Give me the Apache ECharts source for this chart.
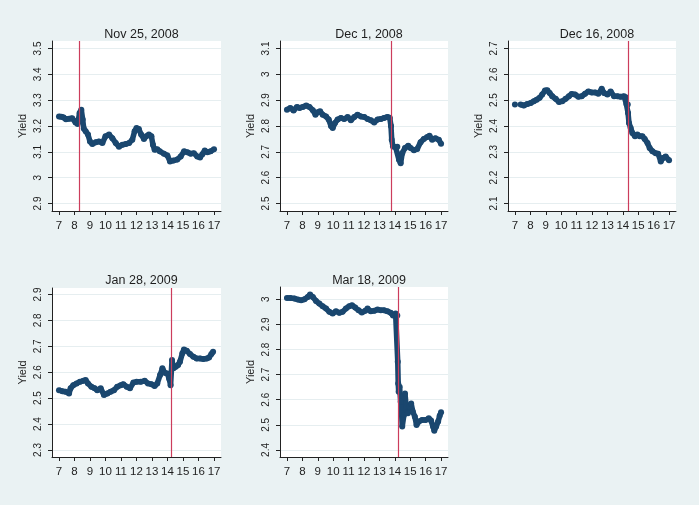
<!DOCTYPE html>
<html>
<head>
<meta charset="utf-8">
<script src="https://cdn.jsdelivr.net/npm/echarts@6/dist/echarts.min.js"></script>
<style>
  html, body { margin: 0; padding: 0; background: #eaf2f3; }
  #chart { width: 699px; height: 505px; }
</style>
</head>
<body>
<div id="chart"></div>
<script>
// 面板标题与事件时间（红线）
const titles = ["Nov 25, 2008", "Dec 1, 2008", "Dec 16, 2008", "Jan 28, 2009", "Mar 18, 2009"];
const eventHours = [8.29, 13.75, 14.36, 14.27, 14.2];
const hourTicks = [7, 8, 9, 10, 11, 12, 13, 14, 15, 16, 17];

// 各面板 y 轴刻度
const yTicks1 = [2.9, 3, 3.1, 3.2, 3.3, 3.4, 3.5];
const yTicks2 = [2.5, 2.6, 2.7, 2.8, 2.9, 3, 3.1];
const yTicks3 = [2.1, 2.2, 2.3, 2.4, 2.5, 2.6, 2.7];
const yTicks4 = [2.3, 2.4, 2.5, 2.6, 2.7, 2.8, 2.9];
const yTicks5 = [2.4, 2.5, 2.6, 2.7, 2.8, 2.9, 3];

// Nov 25, 2008
const hours1 = [7.0, 7.15, 7.3, 7.45, 7.65, 7.85, 8.07, 8.2, 8.33, 8.44, 8.53, 8.6, 8.72, 8.87, 9.0, 9.15, 9.37, 9.58, 9.8, 10.0,
  10.23, 10.44, 10.66, 10.87, 11.09, 11.3, 11.52, 11.73, 11.88, 12.0, 12.15, 12.3, 12.48, 12.63, 12.8, 12.96, 13.06, 13.17, 13.34, 13.5,
  13.77, 13.99, 14.16, 14.38, 14.63, 14.85, 15.07, 15.28, 15.5, 15.7, 15.92, 16.1, 16.25, 16.4, 16.57, 16.78, 17.0];
const yield1 = [3.237, 3.236, 3.233, 3.226, 3.228, 3.23, 3.214, 3.208, 3.25, 3.263, 3.225, 3.19, 3.18, 3.167, 3.14, 3.13, 3.137, 3.14, 3.134, 3.16,
  3.167, 3.153, 3.134, 3.12, 3.127, 3.13, 3.134, 3.147, 3.18, 3.192, 3.188, 3.167, 3.15, 3.16, 3.167, 3.16, 3.127, 3.108, 3.11, 3.102,
  3.093, 3.086, 3.063, 3.066, 3.07, 3.082, 3.102, 3.098, 3.093, 3.095, 3.082, 3.078, 3.091, 3.105, 3.098, 3.102, 3.11];

// Dec 1, 2008
const hours2 = [7.0, 7.22, 7.43, 7.65, 7.82, 8.03, 8.25, 8.46, 8.68, 8.85, 9.0, 9.15, 9.32, 9.54, 9.71, 9.86, 9.97, 10.12, 10.29, 10.5,
  10.72, 10.94, 11.15, 11.37, 11.58, 11.8, 12.02, 12.23, 12.45, 12.66, 12.88, 13.09, 13.3, 13.52, 13.67, 13.75, 13.8, 13.88, 14.05, 14.16,
  14.27, 14.38, 14.48, 14.66, 14.87, 15.02, 15.24, 15.45, 15.67, 15.88, 16.1, 16.25, 16.42, 16.63, 16.85, 17.0];
const yield2 = [2.863, 2.87, 2.86, 2.874, 2.87, 2.874, 2.879, 2.874, 2.861, 2.844, 2.853, 2.857, 2.844, 2.837, 2.825, 2.80, 2.792, 2.812, 2.825, 2.831,
  2.827, 2.835, 2.822, 2.835, 2.844, 2.837, 2.835, 2.827, 2.822, 2.814, 2.825, 2.827, 2.831, 2.835, 2.832, 2.80, 2.747, 2.721, 2.718, 2.72,
  2.669, 2.656, 2.695, 2.715, 2.724, 2.715, 2.706, 2.711, 2.737, 2.75, 2.757, 2.762, 2.747, 2.753, 2.747, 2.731];

// Dec 16, 2008（7 点后有一段空缺）
const hours3 = [7.0, 7.2, 7.37, 7.58, 7.8, 8.02, 8.23, 8.41, 8.6, 8.77, 8.95, 9.1, 9.25, 9.42, 9.64, 9.86, 10.07, 10.29, 10.5, 10.68,
  10.9, 11.11, 11.33, 11.55, 11.76, 11.98, 12.2, 12.41, 12.63, 12.78, 13.0, 13.21, 13.43, 13.65, 13.86, 14.08, 14.19, 14.23, 14.32, 14.34,
  14.4, 14.51, 14.62, 14.79, 14.94, 15.1, 15.27, 15.42, 15.6, 15.74, 15.92, 16.13, 16.29, 16.46, 16.6, 16.78, 17.0];
const yield3 = [2.483, null, 2.483, 2.479, 2.485, 2.489, 2.496, 2.502, 2.509, 2.522, 2.537, 2.538, 2.528, 2.515, 2.505, 2.493, 2.496, 2.505, 2.515, 2.524,
  2.522, 2.513, 2.515, 2.525, 2.534, 2.53, 2.53, 2.525, 2.544, 2.528, 2.522, 2.534, 2.515, 2.515, 2.513, 2.515, 2.511, 2.485, 2.483, 2.45,
  2.412, 2.392, 2.373, 2.36, 2.367, 2.36, 2.36, 2.35, 2.334, 2.315, 2.302, 2.295, 2.293, 2.263, 2.276, 2.282, 2.267];

// Jan 28, 2009
const hours4 = [7.0, 7.22, 7.43, 7.65, 7.75, 7.92, 8.14, 8.35, 8.57, 8.72, 8.87, 9.09, 9.3, 9.47, 9.69, 9.9, 10.12, 10.33, 10.55, 10.76,
  10.98, 11.15, 11.37, 11.58, 11.8, 12.01, 12.27, 12.53, 12.74, 12.96, 13.17, 13.34, 13.52, 13.67, 13.82, 13.99, 14.1, 14.2, 14.29, 14.38,
  14.53, 14.68, 14.8, 14.96, 15.06, 15.24, 15.45, 15.67, 15.88, 16.1, 16.31, 16.53, 16.68, 16.83, 16.94];
const yield4 = [2.531, 2.527, 2.525, 2.518, 2.538, 2.55, 2.557, 2.563, 2.567, 2.57, 2.557, 2.544, 2.538, 2.531, 2.538, 2.512, 2.518, 2.525, 2.531, 2.544,
  2.55, 2.554, 2.544, 2.538, 2.56, 2.563, 2.563, 2.567, 2.557, 2.554, 2.547, 2.557, 2.589, 2.615, 2.598, 2.595, 2.576, 2.55, 2.647, 2.615,
  2.621, 2.628, 2.64, 2.673, 2.688, 2.683, 2.67, 2.66, 2.653, 2.653, 2.651, 2.653, 2.657, 2.67, 2.679];

// Mar 18, 2009
const hours5 = [7.0, 7.22, 7.49, 7.71, 7.92, 8.14, 8.35, 8.5, 8.68, 8.89, 9.1, 9.32, 9.54, 9.75, 9.97, 10.18, 10.4, 10.61, 10.83, 11.04,
  11.22, 11.43, 11.65, 11.86, 12.08, 12.23, 12.44, 12.66, 12.88, 13.09, 13.3, 13.52, 13.73, 13.88, 14.05, 14.16, 14.19, 14.22, 14.25, 14.31,
  14.38, 14.44, 14.48, 14.59, 14.66, 14.74, 14.85, 14.96, 15.06, 15.17, 15.3, 15.41, 15.56, 15.77, 15.99, 16.2, 16.35, 16.48, 16.56, 16.68,
  16.81, 16.91, 17.0];
const yield5 = [3.005, 3.005, 3.003, 2.999, 2.996, 3.0, 3.009, 3.019, 3.009, 2.993, 2.983, 2.972, 2.963, 2.95, 2.943, 2.952, 2.946, 2.95, 2.963, 2.972,
  2.976, 2.967, 2.956, 2.947, 2.954, 2.963, 2.952, 2.954, 2.959, 2.956, 2.956, 2.952, 2.946, 2.936, 2.943, 2.936, 2.751, 2.665, 2.632, 2.652,
  2.592, 2.546, 2.493, 2.539, 2.625, 2.572, 2.546, 2.572, 2.585, 2.552, 2.532, 2.499, 2.513, 2.519, 2.519, 2.526, 2.517, 2.493, 2.477, 2.493,
  2.513, 2.536, 2.55];

const hoursList = [hours1, hours2, hours3, hours4, hours5];
const yieldList = [yield1, yield2, yield3, yield4, yield5];
const yTickList = [yTicks1, yTicks2, yTicks3, yTicks4, yTicks5];

// 版面：每个面板的绘图区位置与 y 轴上下留白
const boxes = [
  { left: 52, top: 41, width: 169, height: 170, yMin: 2.871, yMax: 3.529 },
  { left: 280, top: 41, width: 168, height: 170, yMin: 2.471, yMax: 3.129 },
  { left: 508, top: 41, width: 168, height: 170, yMin: 2.071, yMax: 2.729 },
  { left: 52, top: 288, width: 169, height: 169, yMin: 2.273, yMax: 2.925 },
  { left: 280, top: 287, width: 168, height: 170, yMin: 2.372, yMax: 3.049 }
];

const navy = "#1a476f";
const red = "#cc3d5c";
const axisColor = "#222";
const textColor = "#1e1e1e";

let chart = echarts.init(document.getElementById("chart"), null, { renderer: "canvas" });

const option = {
  backgroundColor: "#eaf2f3",
  animation: false,
  title: [],
  grid: [],
  xAxis: [],
  yAxis: [],
  series: []
};

boxes.forEach((b, i) => {
  option.title.push({
    text: titles[i],
    left: b.left + b.width / 2,
    top: i < 3 ? 23 : 269,
    textAlign: "center",
    textStyle: { fontFamily: "Liberation Sans", fontSize: 12.5, fontWeight: "normal", color: textColor }
  });
  option.grid.push({
    left: b.left, top: b.top, width: b.width, height: b.height,
    show: true, backgroundColor: "#fff", borderWidth: 0
  });
  option.xAxis.push({
    type: "value",
    gridIndex: i,
    min: 6.55,
    max: 17.45,
    axisLine: { show: true, lineStyle: { color: axisColor, width: 1 } },
    axisTick: { show: true, length: 4, customValues: hourTicks, lineStyle: { color: axisColor } },
    axisLabel: {
      customValues: hourTicks, margin: 9,
      fontFamily: "Liberation Sans", fontSize: 11.5, color: textColor
    },
    splitLine: { show: false }
  });
  option.yAxis.push({
    type: "value",
    gridIndex: i,
    min: b.yMin,
    max: b.yMax,
    name: "Yield",
    nameLocation: "middle",
    nameGap: 24,
    nameTextStyle: { fontFamily: "Liberation Sans", fontSize: 11, color: textColor },
    axisLine: { show: true, lineStyle: { color: axisColor, width: 1 } },
    axisTick: { show: true, length: 4, customValues: yTickList[i], lineStyle: { color: axisColor } },
    axisLabel: {
      customValues: yTickList[i], rotate: 90, margin: 9,
      fontFamily: "Liberation Sans", fontSize: 10, color: textColor
    },
    splitLine: { show: true, lineStyle: { color: "#e6eef0", width: 1 } }
  });
  option.series.push({
    type: "line",
    xAxisIndex: i,
    yAxisIndex: i,
    data: hoursList[i].map((h, k) => [h, yieldList[i][k]]),
    symbol: "circle",
    symbolSize: 6,
    showSymbol: true,
    itemStyle: { color: navy },
    lineStyle: { color: navy, width: 5.5 },
    markLine: {
      silent: true,
      symbol: ["none", "none"],
      label: { show: false },
      itemStyle: { color: red },
      lineStyle: { color: red, width: 1.2, type: "solid", opacity: 1 },
      emphasis: { disabled: true },
      data: [{ xAxis: eventHours[i], lineStyle: { color: red } }]
    }
  });
});

chart.setOption(option);
</script>
</body>
</html>
